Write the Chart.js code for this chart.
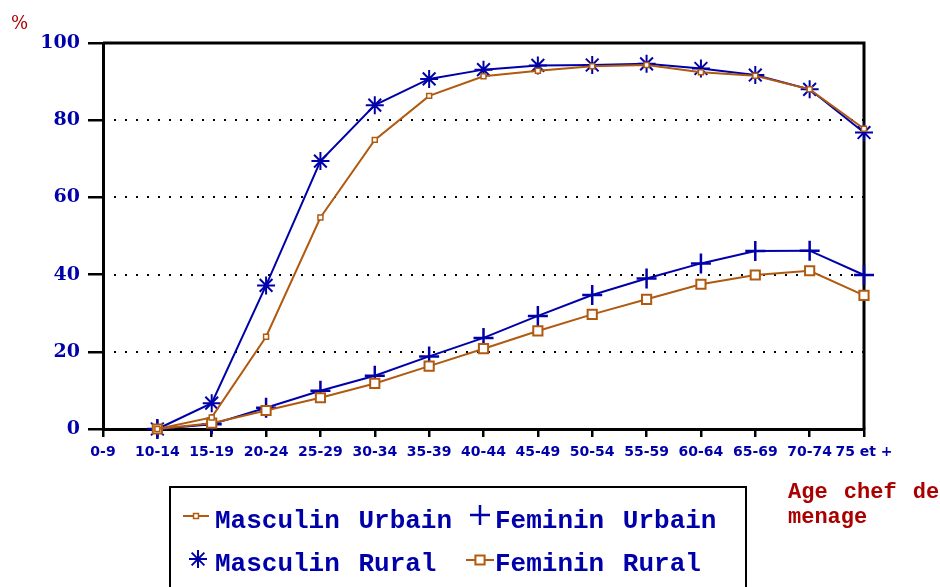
<!DOCTYPE html>
<html>
<head>
<meta charset="utf-8">
<script src="https://cdn.jsdelivr.net/npm/chart.js@4/dist/chart.umd.min.js"></script>
<style>
body { margin: 0; background: #fff; }
#marco { position: relative; width: 940px; height: 587px; overflow: hidden; background: #fff; }
#grafica { position: absolute; left: 0; top: 0; }
#pct { position: absolute; left: 11px; top: 12px; font: 18px 'DejaVu Serif'; color: #aa0000; }
#titulo-x { position: absolute; left: 788px; top: 480px; font: bold 22px/25px 'Liberation Mono'; color: #aa0000; word-spacing: 3px; white-space: nowrap; }
#leyenda { position: absolute; left: 169px; top: 486px; width: 574px; height: 130px; border: 2px solid #000; }
.item { position: absolute; font: bold 26px/26px 'Liberation Mono'; color: #0000aa; word-spacing: 3px; white-space: nowrap; }
.icono { position: absolute; }
</style>
</head>
<body>
<div id="marco">
    <canvas id="grafica" width="940" height="587"></canvas>
    <div id="pct">%</div>
    <div id="titulo-x">Age chef de<br>menage</div>
    <div id="leyenda">
        <canvas class="icono" id="ic-mu" width="26" height="20" style="left:12px; top:18px"></canvas>
        <div class="item" style="left:44px; top:20px">Masculin Urbain</div>
        <canvas class="icono" id="ic-fu" width="26" height="26" style="left:296px; top:14px"></canvas>
        <div class="item" style="left:324px; top:20px">Feminin Urbain</div>
        <canvas class="icono" id="ic-mr" width="26" height="26" style="left:14px; top:58px"></canvas>
        <div class="item" style="left:44px; top:63px">Masculin Rural</div>
        <canvas class="icono" id="ic-fr" width="28" height="20" style="left:295px; top:62px"></canvas>
        <div class="item" style="left:324px; top:63px">Feminin Rural</div>
    </div>
</div>
<script>
const categorias = ['0-9', '10-14', '15-19', '20-24', '25-29', '30-34', '35-39', '40-44',
    '45-49', '50-54', '55-59', '60-64', '65-69', '70-74', '75 et +']

const masculinUrbain = [null, 0, 3.0, 23.9, 54.8, 74.9, 86.3, 91.4, 92.8, 94.0, 94.3, 92.4, 91.5, 88.0, 77.8]
const masculinRural = [null, 0, 6.7, 37.2, 69.4, 83.9, 90.7, 93.1, 94.2, 94.3, 94.6, 93.4, 91.7, 88.0, 76.8]
const femininUrbain = [null, 0, 1.2, 5.5, 9.9, 13.8, 18.8, 23.6, 29.3, 34.7, 39.0, 42.9, 46.1, 46.2, 39.9]
const femininRural = [null, 0, 1.5, 4.8, 8.1, 11.8, 16.3, 20.8, 25.4, 29.7, 33.6, 37.5, 39.9, 41.0, 34.6]

const nivelesPunteados = [20, 40, 60, 80]

const azul = '#0000aa'
const marron = '#b05a10'

//? cuadro superior/derecho y lineas punteadas
const cuadro = {
    id: 'cuadro',
    beforeDatasetsDraw(chart) {
        const { ctx, chartArea: a, scales: { y } } = chart
        ctx.save()
        ctx.strokeStyle = '#000'
        ctx.lineWidth = 2
        ctx.setLineDash([2, 9])
        nivelesPunteados.forEach(v => {
            const py = Math.round(y.getPixelForValue(v))
            ctx.beginPath()
            ctx.moveTo(a.left + 11, py)
            ctx.lineTo(a.right, py)
            ctx.stroke()
        })
        ctx.setLineDash([])
        ctx.lineWidth = 3
        ctx.beginPath()
        ctx.moveTo(a.left, a.top)
        ctx.lineTo(a.right, a.top)
        ctx.lineTo(a.right, a.bottom)
        ctx.stroke()
        ctx.restore()
    }
}

const data = {
    labels: categorias,
    datasets: [
        {
            label: 'Masculin Urbain',
            data: masculinUrbain,
            borderColor: marron,
            borderWidth: 2,
            pointStyle: 'rect',
            pointRadius: 3.5,
            pointBorderWidth: 1.5,
            pointBorderColor: marron,
            pointBackgroundColor: '#fff'
        },
        {
            label: 'Feminin Rural',
            data: femininRural,
            borderColor: marron,
            borderWidth: 2,
            pointStyle: 'rect',
            pointRadius: 6.5,
            pointBorderWidth: 2,
            pointBorderColor: marron,
            pointBackgroundColor: '#fff'
        },
        {
            label: 'Masculin Rural',
            data: masculinRural,
            borderColor: azul,
            borderWidth: 2,
            pointStyle: 'star',
            pointRadius: 9,
            pointBorderWidth: 2,
            pointBorderColor: azul,
            pointBackgroundColor: azul
        },
        {
            label: 'Feminin Urbain',
            data: femininUrbain,
            borderColor: azul,
            borderWidth: 2,
            pointStyle: 'cross',
            pointRadius: 10,
            pointBorderWidth: 2.5,
            pointBorderColor: azul,
            pointBackgroundColor: azul
        }
    ]
}

const options = {
    responsive: false,
    animation: false,
    events: [],
    layout: { padding: { left: 0, top: 43, right: 76, bottom: 0 } },
    plugins: { legend: { display: false }, tooltip: { enabled: false } },
    elements: { line: { tension: 0 } },
    scales: {
        x: {
            offset: false,
            grid: { drawOnChartArea: false, color: '#000', lineWidth: 2.5, tickLength: 8 },
            border: { color: '#000', width: 3 },
            ticks: {
                autoSkip: false, maxRotation: 0, minRotation: 0, padding: 7,
                color: azul,
                font: { family: 'DejaVu Sans', size: 14, weight: 'bold' }
            },
            afterFit(s) { s.height = 158 }
        },
        y: {
            min: 0,
            max: 100,
            grid: { drawOnChartArea: false, color: '#000', lineWidth: 2.5, tickLength: 15 },
            border: { color: '#000', width: 3 },
            ticks: {
                stepSize: 20, padding: 8,
                color: azul,
                font: { family: 'DejaVu Serif', size: 19, weight: 'bold' }
            },
            afterFit(s) { s.width = 103 }
        }
    }
}

data.datasets.forEach(d => { d.clip = false })

const grafica = new Chart(document.getElementById('grafica'), {
    type: 'line',
    data: data,
    options: options,
    plugins: [cuadro]
})

//? iconos de la leyenda
function icono(id, estilo, radio, color, borde, linea) {
    const c = document.getElementById(id)
    const ctx = c.getContext('2d')
    const cx = c.width / 2, cy = c.height / 2
    ctx.strokeStyle = color
    ctx.fillStyle = '#fff'
    ctx.lineWidth = 2
    if (linea) {
        ctx.beginPath()
        ctx.moveTo(0, cy)
        ctx.lineTo(c.width, cy)
        ctx.stroke()
    }
    ctx.lineWidth = borde
    Chart.helpers.drawPoint(ctx, { pointStyle: estilo, radius: radio, rotation: 0, borderWidth: borde }, cx, cy)
}

icono('ic-mu', 'rect', 3.5, marron, 1.5, true)
icono('ic-fr', 'rect', 6.5, marron, 2, true)
icono('ic-mr', 'star', 9, azul, 2, false)
icono('ic-fu', 'cross', 10, azul, 2.5, false)
</script>
</body>
</html>
